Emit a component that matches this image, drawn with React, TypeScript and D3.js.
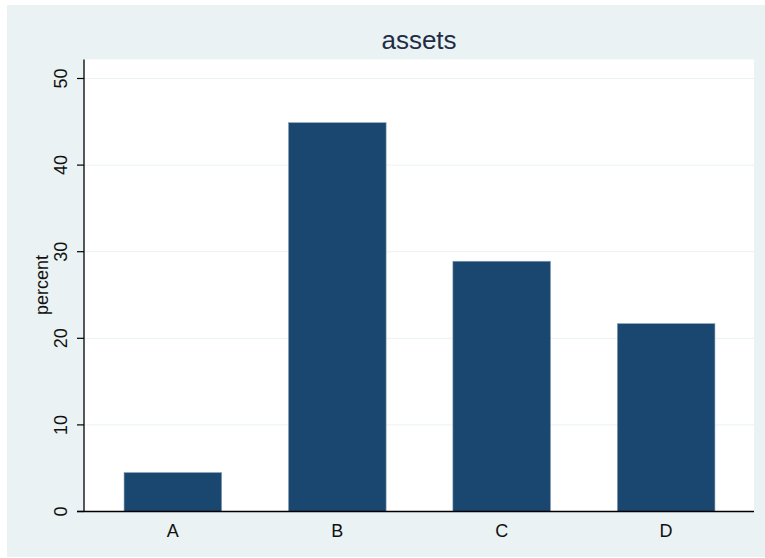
import React from "react";
import * as d3 from "d3";

const categories = ["A", "B", "C", "D"];
const values = [4.5, 44.9, 28.9, 21.7];
const yTicks = [0, 10, 20, 30, 40, 50];
const title = "assets";
const yLabel = "percent";

export default function App() {
  const W = 765, H = 558;
  const plot = { left: 84, right: 754, top: 59.5, bottom: 511.5 };
  const y = d3.scaleLinear().domain([0, 50]).range([plot.bottom, 78.5]);
  const x = d3
    .scaleBand<string>()
    .domain(categories)
    .range([plot.left + 1, plot.right])
    .paddingInner(0.406)
    .paddingOuter(0.2375);
  const font = "'Liberation Sans', Arial, sans-serif";
  return (
    <svg width={W} height={H} style={{ position: "absolute", left: 0, top: 0 }} fontFamily={font}>
      <rect x={0} y={0} width={W} height={H} fill="#ffffff" />
      <rect x={7} y={5} width={W - 7} height={552} fill="#EAF2F3" />
      <rect x={plot.left} y={plot.top} width={plot.right - plot.left} height={plot.bottom - plot.top} fill="#ffffff" />
      {yTicks.filter((t) => t > 0).map((t) => (
        <line key={"g" + t} x1={plot.left} x2={plot.right} y1={y(t)} y2={y(t)} stroke="#EAF2F3" strokeWidth={1} />
      ))}
      {categories.map((c, i) => (
        <rect
          key={c}
          x={x(c)!}
          y={y(values[i])}
          width={x.bandwidth()}
          height={y(0) - y(values[i])}
          fill="#1A476F"
          stroke="#8FA6BC"
          strokeWidth={0.6}
        />
      ))}
      <line x1={plot.left} x2={plot.left} y1={plot.top} y2={plot.bottom} stroke="#000" strokeWidth={1.3} />
      <line x1={plot.left - 7} x2={plot.right} y1={plot.bottom} y2={plot.bottom} stroke="#000" strokeWidth={1.3} />
      {yTicks.map((t) => (
        <g key={"t" + t}>
          <line x1={plot.left - 7} x2={plot.left} y1={y(t)} y2={y(t)} stroke="#000" strokeWidth={1.2} />
          <text
            transform={`translate(66.5,${y(t)}) rotate(-90)`}
            textAnchor="middle"
            fontSize={18}
            fill="#111"
          >
            {t}
          </text>
        </g>
      ))}
      {categories.map((c) => (
        <text key={"l" + c} x={x(c)! + x.bandwidth() / 2} y={537} textAnchor="middle" fontSize={18} fill="#111">
          {c}
        </text>
      ))}
      <text transform={`translate(48,285) rotate(-90)`} textAnchor="middle" fontSize={18} fill="#111">
        {yLabel}
      </text>
      <text x={419} y={49} textAnchor="middle" fontSize={26} fill="#1E2D45">
        {title}
      </text>
    </svg>
  );
}
